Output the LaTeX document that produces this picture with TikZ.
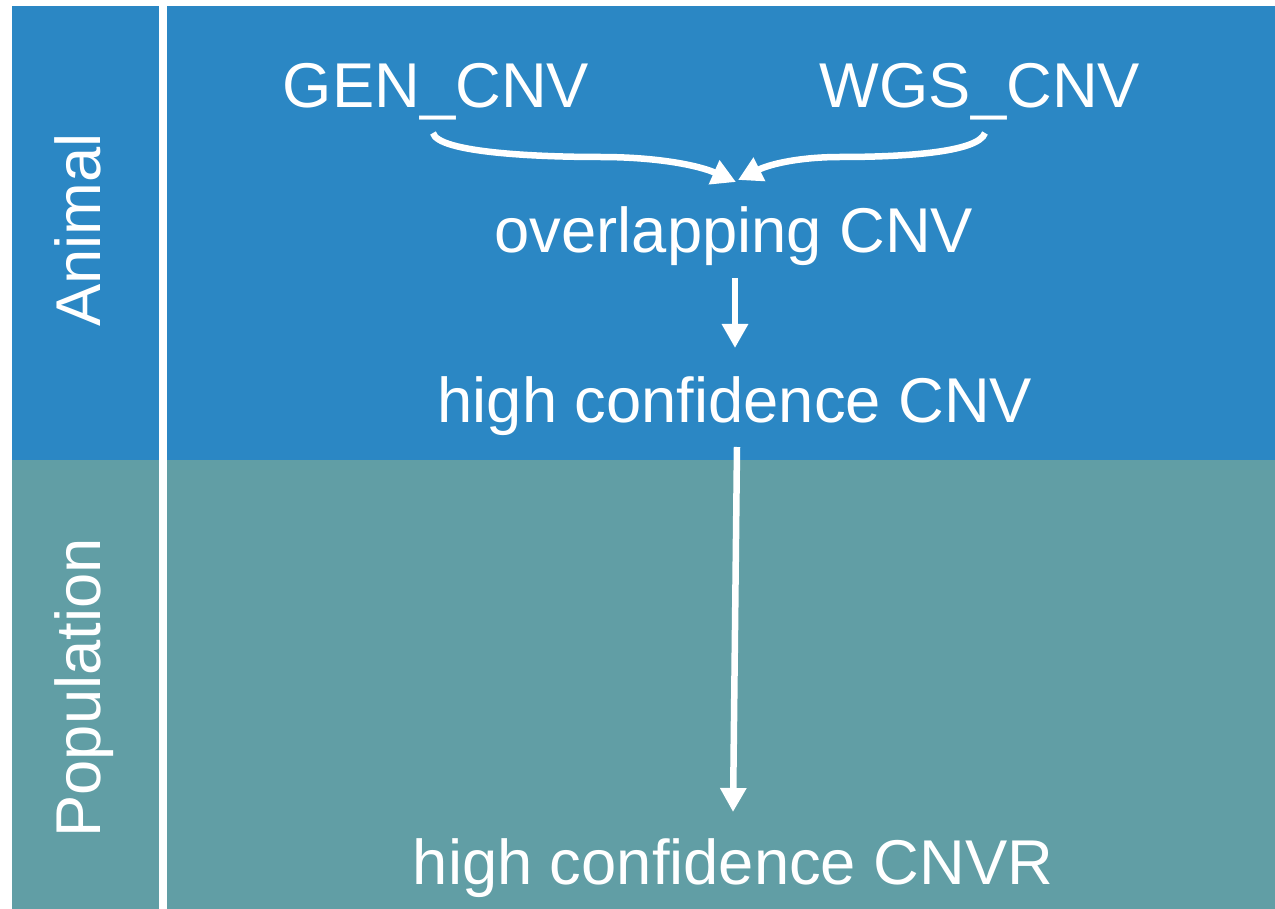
\documentclass[tikz,border=0pt]{standalone}
\usepackage{fontspec}
\setmainfont{Liberation Sans}
\usetikzlibrary{arrows.meta,calc}
\definecolor{animalblue}{HTML}{2B87C4}
\definecolor{popteal}{HTML}{619EA5}
\tikzset{
  lbl/.style={text=white,inner sep=0pt,anchor=base,font=\fontsize{63.3}{76}\selectfont},
  flow/.style={draw=white,line width=6.5pt,-{Triangle[length=24pt,width=25pt]}},
}
\begin{document}
\begin{tikzpicture}[x=1pt,y=-1pt]
\useasboundingbox (0,0) rectangle (1275,909);
\fill[white] (0,0) rectangle (1275,909);
\fill[animalblue] (12,6) rectangle (159,460);
\fill[animalblue] (167,6) rectangle (1275,460);
\fill[popteal] (12,460) rectangle (159,909);
\fill[popteal] (167,460) rectangle (1275,909);
\node[lbl,rotate=90] (animal) at (100,230) {Animal};
\node[lbl,rotate=90] (pop) at (100,688) {Population};
\node[lbl] (gen) at (436,108) {GEN\_CNV};
\node[lbl] (wgs) at (980,108) {WGS\_CNV};
\node[lbl] (ovl) at (734,253) {overlapping CNV};
\node[lbl] (hcc) at (735,422) {high confidence CNV};
\node[lbl] (hcr) at (733,884) {high confidence CNVR};
\draw[flow] ($(gen.base)+(-3,25)$) .. controls (438,153) and (540,157) .. (600,157)
  .. controls (660,157) and (700,166) .. ($(ovl.base)+(2,-71)$);
\draw[flow] ($(wgs.base)+(5,25)$) .. controls (978,153) and (900,157) .. (840,157)
  .. controls (800,157) and (770,164) .. ($(ovl.base)+(4,-73)$);
\draw[flow] ($(ovl.base)+(1,25)$) -- ($(hcc.base)+(0,-74)$);
\draw[flow] ($(hcc.base)+(2,25)$) -- ($(hcr.base)+(0,-72)$);
\end{tikzpicture}
\end{document}
